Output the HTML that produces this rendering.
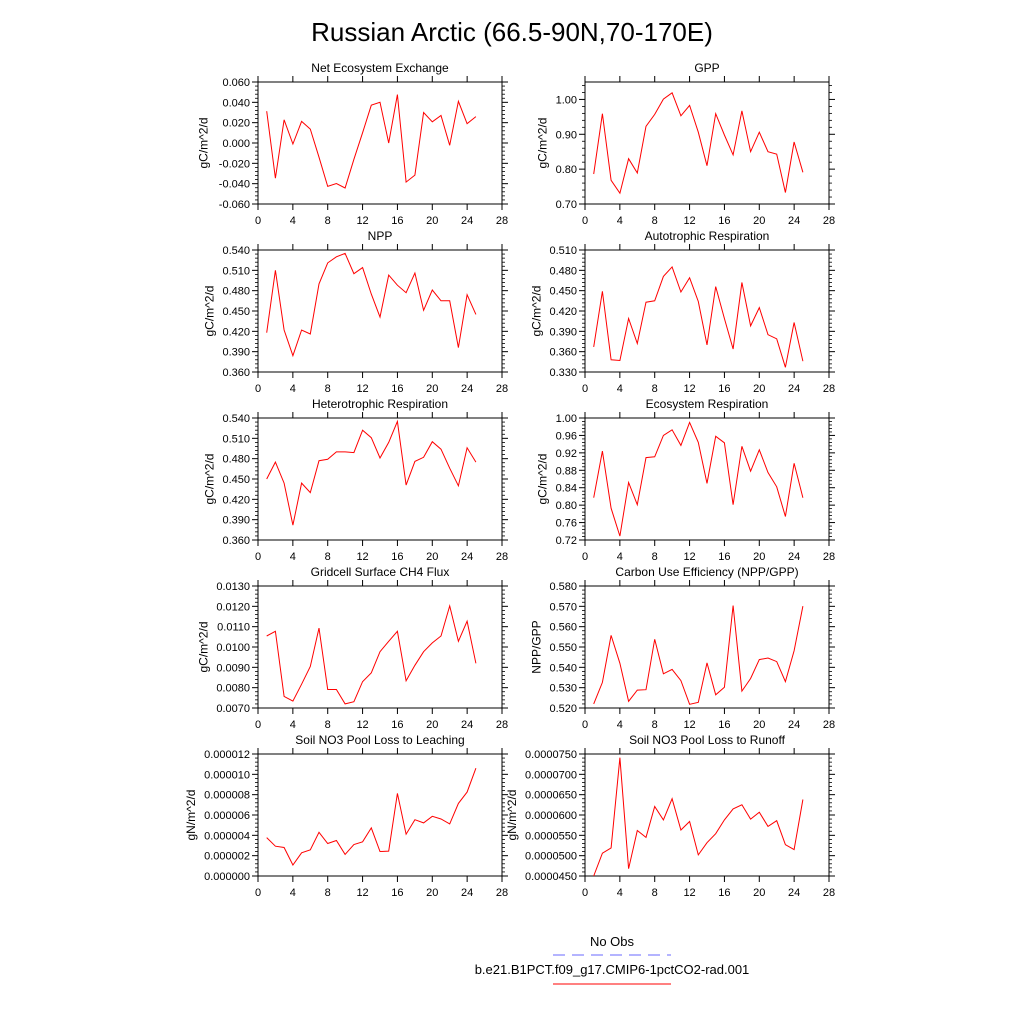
<!DOCTYPE html>
<html><head><meta charset="utf-8"><style>
html,body{margin:0;padding:0;background:#fff;}
svg{display:block;font-family:"Liberation Sans",Arial,sans-serif;}
</style></head><body>
<svg id="fig" width="1024" height="1024" viewBox="0 0 1024 1024" xmlns="http://www.w3.org/2000/svg">
<rect width="1024" height="1024" fill="#fff"/>
<text x="512" y="41" font-size="26" text-anchor="middle">Russian Arctic (66.5-90N,70-170E)</text>
<g>
<text x="612" y="946" font-size="13" text-anchor="middle">No Obs</text>
<line x1="553" y1="955" x2="671" y2="955" stroke="#6a6aff" stroke-width="1" stroke-dasharray="12,7"/>
<text x="612" y="974" font-size="13" text-anchor="middle">b.e21.B1PCT.f09_g17.CMIP6-1pctCO2-rad.001</text>
<line x1="553" y1="984" x2="671" y2="984" stroke="#f00" stroke-width="1"/>
</g>
<g id="panels"></g>
</svg>
<script>
const years = [1,2,3,4,5,6,7,8,9,10,11,12,13,14,15,16,17,18,19,20,21,22,23,24,25];
const xTicks = [0,4,8,12,16,20,24,28];
const neeVals = [0.0313,-0.0346,0.0228,-0.001,0.0212,0.0137,-0.014,-0.0427,-0.0398,-0.0443,-0.016,0.0101,0.0372,0.040,0.0,0.0476,-0.0385,-0.0316,0.030,0.0209,0.027,-0.0023,0.041,0.019,0.026];
const gppVals = [0.786,0.959,0.768,0.731,0.830,0.789,0.923,0.957,1.001,1.019,0.953,0.983,0.906,0.810,0.959,0.898,0.841,0.967,0.850,0.906,0.850,0.843,0.733,0.878,0.791];
const nppVals = [0.418,0.510,0.422,0.384,0.422,0.416,0.490,0.521,0.530,0.535,0.505,0.514,0.475,0.441,0.503,0.488,0.477,0.506,0.451,0.481,0.465,0.465,0.396,0.474,0.445];
const arVals = [0.367,0.449,0.348,0.347,0.409,0.372,0.433,0.435,0.471,0.485,0.448,0.469,0.434,0.370,0.456,0.409,0.364,0.462,0.398,0.425,0.385,0.379,0.337,0.403,0.346];
const hrVals = [0.450,0.475,0.444,0.382,0.444,0.430,0.477,0.479,0.490,0.490,0.489,0.522,0.511,0.481,0.504,0.535,0.441,0.476,0.482,0.505,0.494,0.466,0.440,0.496,0.475];
const erVals = [0.817,0.924,0.793,0.729,0.852,0.801,0.909,0.911,0.960,0.973,0.937,0.990,0.944,0.850,0.958,0.943,0.801,0.935,0.878,0.927,0.875,0.842,0.774,0.896,0.817];
const ch4Vals = [0.01054,0.01077,0.00757,0.00734,0.00817,0.00904,0.01093,0.00791,0.00791,0.00720,0.00731,0.00830,0.00873,0.00977,0.01028,0.01077,0.00834,0.00910,0.00977,0.01020,0.01054,0.01202,0.01028,0.01127,0.00920];
const cueVals = [0.5220,0.5326,0.5557,0.5420,0.5233,0.5288,0.5290,0.5538,0.5368,0.5390,0.5335,0.5218,0.5228,0.5422,0.5265,0.5302,0.5704,0.5283,0.5345,0.5438,0.5446,0.5428,0.5330,0.5482,0.5701];
const leachVals = [3.78e-6,2.93e-6,2.80e-6,1.08e-6,2.28e-6,2.58e-6,4.30e-6,3.20e-6,3.49e-6,2.12e-6,3.10e-6,3.36e-6,4.73e-6,2.41e-6,2.45e-6,8.12e-6,4.11e-6,5.54e-6,5.22e-6,5.87e-6,5.61e-6,5.12e-6,7.14e-6,8.25e-6,10.60e-6];
const runoffVals = [45.0e-6,50.6e-6,51.9e-6,74.1e-6,46.8e-6,56.2e-6,54.5e-6,62.1e-6,58.8e-6,64.0e-6,56.3e-6,58.4e-6,50.2e-6,53.2e-6,55.4e-6,58.8e-6,61.5e-6,62.5e-6,59.0e-6,60.7e-6,57.2e-6,58.6e-6,52.7e-6,51.5e-6,63.8e-6];

const neeTicks = ["0.060","0.040","0.020","0.000","-0.020","-0.040","-0.060"];
const gppTicks = ["1.00","0.90","0.80","0.70"];
const nppTicks = ["0.540","0.510","0.480","0.450","0.420","0.390","0.360"];
const arTicks = ["0.510","0.480","0.450","0.420","0.390","0.360","0.330"];
const hrTicks = ["0.540","0.510","0.480","0.450","0.420","0.390","0.360"];
const erTicks = ["1.00","0.96","0.92","0.88","0.84","0.80","0.76","0.72"];
const ch4Ticks = ["0.0130","0.0120","0.0110","0.0100","0.0090","0.0080","0.0070"];
const cueTicks = ["0.580","0.570","0.560","0.550","0.540","0.530","0.520"];
const leachTicks = ["0.000012","0.000010","0.000008","0.000006","0.000004","0.000002","0.000000"];
const runoffTicks = ["0.0000750","0.0000700","0.0000650","0.0000600","0.0000550","0.0000500","0.0000450"];

const panels = [
 {name:"nee",title:"Net Ecosystem Exchange",vals:neeVals,ticks:neeTicks,ymin:-0.06,ymax:0.06,ytitle:"gC/m^2/d",col:0,row:0},
 {name:"gpp",title:"GPP",vals:gppVals,ticks:gppTicks,ymin:0.70,ymax:1.05,ytitle:"gC/m^2/d",col:1,row:0},
 {name:"npp",title:"NPP",vals:nppVals,ticks:nppTicks,ymin:0.36,ymax:0.54,ytitle:"gC/m^2/d",col:0,row:1},
 {name:"ar",title:"Autotrophic Respiration",vals:arVals,ticks:arTicks,ymin:0.33,ymax:0.51,ytitle:"gC/m^2/d",col:1,row:1},
 {name:"hr",title:"Heterotrophic Respiration",vals:hrVals,ticks:hrTicks,ymin:0.36,ymax:0.54,ytitle:"gC/m^2/d",col:0,row:2},
 {name:"er",title:"Ecosystem Respiration",vals:erVals,ticks:erTicks,ymin:0.72,ymax:1.00,ytitle:"gC/m^2/d",col:1,row:2},
 {name:"ch4",title:"Gridcell Surface CH4 Flux",vals:ch4Vals,ticks:ch4Ticks,ymin:0.007,ymax:0.013,ytitle:"gC/m^2/d",col:0,row:3},
 {name:"cue",title:"Carbon Use Efficiency (NPP/GPP)",vals:cueVals,ticks:cueTicks,ymin:0.52,ymax:0.58,ytitle:"NPP/GPP",col:1,row:3},
 {name:"leach",title:"Soil NO3 Pool Loss to Leaching",vals:leachVals,ticks:leachTicks,ymin:0,ymax:0.000012,ytitle:"gN/m^2/d",col:0,row:4},
 {name:"runoff",title:"Soil NO3 Pool Loss to Runoff",vals:runoffVals,ticks:runoffTicks,ymin:0.000045,ymax:0.000075,ytitle:"gN/m^2/d",col:1,row:4}
];
const NS="http://www.w3.org/2000/svg";
const root=document.getElementById('panels');
function mk(tag,attrs,parent){const e=document.createElementNS(NS,tag);for(const k in attrs)e.setAttribute(k,attrs[k]);parent.appendChild(e);return e;}
const colX=[258,585], rowY=[82,250,418,586,754], W=244, H=122;
panels.forEach(p=>{
 const g=document.createElementNS(NS,'g');
 
 
 root.appendChild(g);
 const x0=colX[p.col], y0=rowY[p.row];
 const sx=v=>x0+(v/28)*W;
 const sy=v=>y0+H-(v-p.ymin)/(p.ymax-p.ymin)*H;
 const t=mk('text',{x:x0+W/2,y:y0-10,'font-size':12,'text-anchor':'middle'},g);
 
 
 t.textContent=p.title;
 const box=mk('rect',{x:x0,y:y0,width:W,height:H,fill:'none',stroke:'#000','stroke-width':1},g);
 
 
 // x ticks
 xTicks.forEach(v=>{
  const x=sx(v);
  mk('line',{x1:x,y1:y0+H,x2:x,y2:y0+H+6,stroke:'#000'},g);
  mk('line',{x1:x,y1:y0,x2:x,y2:y0-6,stroke:'#000'},g);
  const l=mk('text',{x:x,y:y0+H+20,'font-size':11,'text-anchor':'middle'},g);
  
  
  l.textContent=v;
 });
 // y ticks
 const n=p.ticks.length;
 let maxW=0;
 p.ticks.forEach((lab,i)=>{
  const y=y0+H-i*0; 
 });
 const step=(p.ymax-p.ymin);
 // major tick values from labels
 p.ticks.forEach((lab,i)=>{
  const v=parseFloat(lab);
  const y=sy(v);
  mk('line',{x1:x0,y1:y,x2:x0-6,y2:y,stroke:'#000'},g);
  mk('line',{x1:x0+W,y1:y,x2:x0+W+6,y2:y,stroke:'#000'},g);
  const l=mk('text',{x:x0-8,y:y+4,'font-size':11,'text-anchor':'end'},g);
  
  
  l.textContent=lab;
  maxW=Math.max(maxW,lab.length);
  if(i<n-1){
   const v2=parseFloat(p.ticks[i+1]);
   for(let k=1;k<5;k++){
    const ym=sy(v+(v2-v)*k/5);
    if(ym>=y0-0.5&&ym<=y0+H+0.5){
     mk('line',{x1:x0,y1:ym,x2:x0-3,y2:ym,stroke:'#000','stroke-width':0.8},g);
     mk('line',{x1:x0+W,y1:ym,x2:x0+W+3,y2:ym,stroke:'#000','stroke-width':0.8},g);
    }
   }
  }
  if(i===0){
   // minor ticks above top major up to frame
   const v2=parseFloat(p.ticks[1]); const d=(v-v2)/5;
   for(let k=1;k<10;k++){const ym=sy(v+d*k); if(ym>=y0-0.5){mk('line',{x1:x0,y1:ym,x2:x0-3,y2:ym,stroke:'#000','stroke-width':0.8},g);mk('line',{x1:x0+W,y1:ym,x2:x0+W+3,y2:ym,stroke:'#000','stroke-width':0.8},g);}}
  }
 });
 const tx=x0-14-maxW*6.1;
 const yt=mk('text',{x:tx,y:y0+H/2,'font-size':12,'text-anchor':'middle',transform:`rotate(-90 ${tx} ${y0+H/2})`},g);
 
 
 yt.textContent=p.ytitle;
 const pts=years.map((yr,i)=>sx(yr).toFixed(1)+','+sy(p.vals[i]).toFixed(1)).join(' ');
 const pl=mk('polyline',{points:pts,fill:'none',stroke:'#f00','stroke-width':1},g);
 
 
});
</script>
</body></html>
